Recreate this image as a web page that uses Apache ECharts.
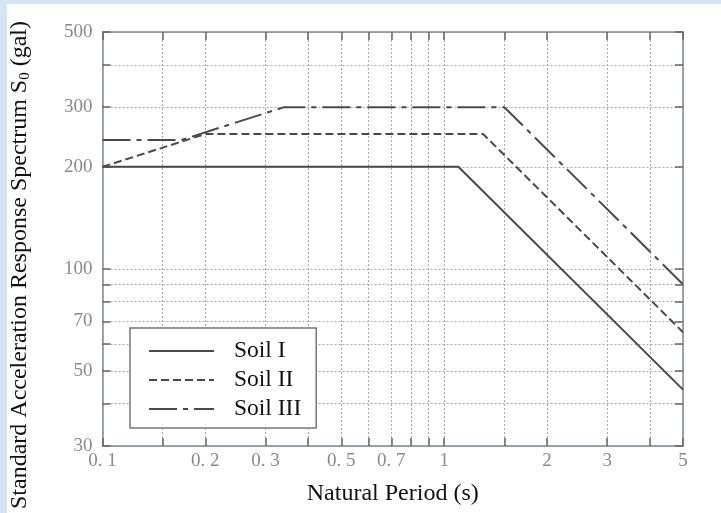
<!DOCTYPE html>
<html>
<head>
<meta charset="utf-8">
<script src="https://cdn.jsdelivr.net/npm/echarts@6/dist/echarts.min.js"></script>
<style>
html,body{margin:0;padding:0;background:#d5e4f3;}
#c{width:721px;height:513px;}
</style>
</head>
<body>
<div id="c"></div>
<script>
// Data
const soilNames = ['Soil I', 'Soil II', 'Soil III'];
const soil1 = [[0.1, 200], [1.1, 200], [5, 44]];
const soil2 = [[0.1, 200], [0.2, 250], [1.3, 250], [5, 65]];
const soil3 = [[0.1, 240], [0.17, 240], [0.34, 300], [1.5, 300], [5, 90]];
const xLabelValues = [0.1, 0.2, 0.3, 0.5, 0.7, 1, 2, 3, 5];
const xGridValues = [0.1, 0.15, 0.2, 0.3, 0.4, 0.5, 0.6, 0.7, 0.8, 0.9, 1, 1.5, 2, 3, 4, 5];
const yLabelValues = [30, 50, 70, 100, 200, 300, 500];
const yGridValues = [30, 40, 50, 60, 70, 80, 90, 100, 200, 300, 400, 500];

const serif = 'Liberation Serif';
const lineColor = '#4a4a4a';
const axisColor = '#7f8a8e';
const gridLine = { show: true, lineStyle: { color: '#a8a8a8', type: [2, 2], width: 1 } };
const fmtX = v => String(v).replace('.', '. ');

const chart = echarts.init(document.getElementById('c'), null, { renderer: 'canvas' });
chart.setOption({
  backgroundColor: 'transparent',
  animation: false,
  graphic: [{ type: 'rect', z: -10, silent: true, shape: { x: 7, y: 4, width: 714, height: 509 }, style: { fill: '#ffffff' } }],
  grid: { left: 102, right: 38, top: 32, bottom: 67, show: false },
  legend: {
    orient: 'vertical', left: 130, top: 328,
    data: soilNames,
    itemWidth: 65, itemHeight: 20, itemGap: 5,
    padding: [11, 15, 7, 18],
    backgroundColor: '#fff', borderColor: '#777', borderWidth: 1.5,
    itemStyle: { opacity: 0 },
    textStyle: { fontFamily: serif, fontSize: 23.5, color: '#111', lineHeight: 23, padding: [0, 0, 0, 15] }
  },
  xAxis: [{
    type: 'log', logBase: 10, min: 0.1, max: 5,
    name: 'Natural Period (s)', nameLocation: 'middle', nameGap: 36,
    nameTextStyle: { fontFamily: serif, fontSize: 24, color: '#111' },
    axisLine: { show: true, lineStyle: { color: axisColor, width: 1.5 } },
    axisTick: { show: true, inside: true, length: 8, customValues: xGridValues, lineStyle: { color: '#666', width: 1.5 } },
    axisLabel: { customValues: xLabelValues, formatter: fmtX, fontFamily: serif, fontSize: 19, color: '#8a8a8a', margin: 6, showMinLabel: true, showMaxLabel: true },
    splitLine: gridLine
  }, {
    type: 'log', logBase: 10, min: 0.1, max: 5, position: 'top',
    axisLine: { show: true, lineStyle: { color: axisColor, width: 1.5 } },
    axisTick: { show: true, inside: true, length: 8, customValues: xGridValues, lineStyle: { color: '#666', width: 1.5 } },
    axisLabel: { show: false }, splitLine: { show: false }
  }],
  yAxis: [{
    type: 'log', logBase: 10, min: 30, max: 500,
    name: 'Standard Acceleration Response Spectrum {sub|S}{subs|0} (gal)',
    nameLocation: 'middle', nameGap: 70, nameRotate: 90,
    nameTextStyle: { fontFamily: serif, fontSize: 24, color: '#111', padding: [0, 52, 0, 0],
      rich: { sub: { fontFamily: serif, fontSize: 24, color: '#111' }, subs: { fontFamily: serif, fontSize: 15, color: '#111', verticalAlign: 'bottom', padding: [10, 0, 0, 0] } } },
    axisLine: { show: true, lineStyle: { color: axisColor, width: 1.5 } },
    axisTick: { show: true, inside: true, length: 8, customValues: yGridValues, lineStyle: { color: '#666', width: 1.5 } },
    axisLabel: { customValues: yLabelValues, fontFamily: serif, fontSize: 19, color: '#8a8a8a', margin: 10, showMinLabel: true, showMaxLabel: true },
    splitLine: gridLine
  }, {
    type: 'log', logBase: 10, min: 30, max: 500, position: 'right',
    axisLine: { show: true, lineStyle: { color: axisColor, width: 1.5 } },
    axisTick: { show: true, inside: true, length: 8, customValues: yGridValues, lineStyle: { color: '#666', width: 1.5 } },
    axisLabel: { show: false }, splitLine: { show: false }
  }],
  series: [
    { name: soilNames[0], type: 'line', data: soil1, symbol: 'none', lineStyle: { color: lineColor, width: 2, type: 'solid' }, itemStyle: { color: lineColor } },
    { name: soilNames[1], type: 'line', data: soil2, symbol: 'none', lineStyle: { color: lineColor, width: 2, type: [8, 4] }, itemStyle: { color: lineColor } },
    { name: soilNames[2], type: 'line', data: soil3, symbol: 'none', lineStyle: { color: lineColor, width: 2, type: [28, 6, 5, 6] }, itemStyle: { color: lineColor } }
  ]
});
</script>
</body>
</html>
